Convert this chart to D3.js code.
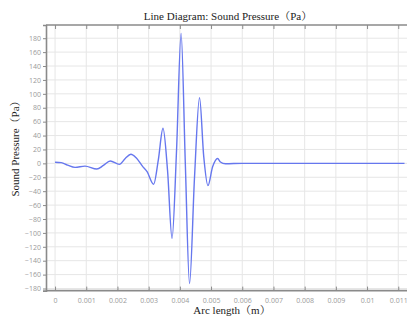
<!DOCTYPE html>
<html><head><meta charset="utf-8">
<script src="https://cdn.jsdelivr.net/npm/d3@7"></script>
<style>html,body{margin:0;padding:0;background:#fff;}svg{display:block;}</style>
</head><body>
<svg id="c" width="407" height="321"></svg>
<script>
const arcLength = [0, 0.0002, 0.0004, 0.00064, 0.00096, 0.00134, 0.00155, 0.00177, 0.00206, 0.00225, 0.00243, 0.0026, 0.0028, 0.00295, 0.00316, 0.00331, 0.00346, 0.003605, 0.00375, 0.003895, 0.00404, 0.004175, 0.00431, 0.00447, 0.00463, 0.004765, 0.0049, 0.00505, 0.00521, 0.0053, 0.00546, 0.006, 0.0112];
const pressure  = [1.5, 1.0, -2.5, -5.8, -4, -8.2, -3, 3.3, -1.5, 7, 13, 8, -4, -12, -30, 5, 50.4, -10, -108, 20, 187, 0, -173, -20, 94.5, 10, -32, -5, 7, 2, -0.5, 0, 0];
const xTicks = [0, 0.001, 0.002, 0.003, 0.004, 0.005, 0.006, 0.007, 0.008, 0.009, 0.01, 0.011];
const yTicks = [-180, -160, -140, -120, -100, -80, -60, -40, -20, 0, 20, 40, 60, 80, 100, 120, 140, 160, 180];
const title = "Line Diagram: Sound Pressure（Pa）";
const xLabel = "Arc length（m）";
const yLabel = "Sound Pressure（Pa）";

const L = 46, R = 407, T = 25, B = 290.6;
const svg = d3.select("#c");
const x = d3.scaleLinear().domain([-0.00029, 0.01128]).range([L, R]);
const y = d3.scaleLinear().domain([-183, 199]).range([B, T]);

// grid
svg.append("g").selectAll("line").data(xTicks).join("line")
  .attr("x1", d => x(d)).attr("x2", d => x(d)).attr("y1", T).attr("y2", B)
  .attr("stroke", "#e6e6e6").attr("stroke-width", 1);
svg.append("g").selectAll("line").data(yTicks).join("line")
  .attr("x1", L).attr("x2", R).attr("y1", d => y(d)).attr("y2", d => y(d))
  .attr("stroke", "#e6e6e6").attr("stroke-width", 1);

const tickFont = "Segoe UI, 'Open Sans', 'DejaVu Sans', sans-serif";
// axes
const xAxis = d3.axisBottom(x).tickValues(xTicks).tickSize(-4).tickPadding(7)
  .tickFormat(d => d3.format("~g")(d));
const gx = svg.append("g").attr("transform", `translate(0,${B})`).call(xAxis);
const yAxis = d3.axisLeft(y).tickValues(yTicks).tickSize(3).tickPadding(2);
const gy = svg.append("g").attr("transform", `translate(${L},0)`).call(yAxis);
const xTop = d3.axisTop(x).tickValues(xTicks).tickSize(-4).tickFormat("");
const gt = svg.append("g").attr("transform", `translate(0,${T})`).call(xTop);
[gx, gy, gt].forEach(g => {
  g.select(".domain").attr("stroke", "#8a8a8a").attr("stroke-width", 1.6);
  g.selectAll(".tick line").attr("stroke", "#8a8a8a").attr("stroke-width", 1);
  g.selectAll("text").attr("fill", "#9a9a9a").attr("font-size", 7).attr("font-family", tickFont);
});
gx.select(".domain").attr("d", `M${L},0H${R}`);
gt.select(".domain").attr("d", `M${L},0H${R}`);

// line
const pts = arcLength.map((a, i) => [a, pressure[i]]);
svg.append("path").datum(pts)
  .attr("fill", "none").attr("stroke", "#6677ee").attr("stroke-width", 1.4)
  .attr("d", d3.line().x(d => x(d[0])).y(d => y(d[1])).curve(d3.curveMonotoneX));

const serif = "'Liberation Serif', 'Times New Roman', 'Noto Serif CJK SC', serif";
svg.append("text").attr("x", 228).attr("y", 20).attr("text-anchor", "middle")
  .attr("font-family", serif).attr("font-size", 11).attr("fill", "#222").text(title);
svg.append("text").attr("x", 232).attr("y", 314).attr("text-anchor", "middle")
  .attr("font-family", serif).attr("font-size", 11).attr("fill", "#222").text(xLabel);
svg.append("text").attr("transform", "translate(19,146) rotate(-90)").attr("text-anchor", "middle")
  .attr("font-family", serif).attr("font-size", 11).attr("fill", "#222").text(yLabel);
</script>
</body></html>
